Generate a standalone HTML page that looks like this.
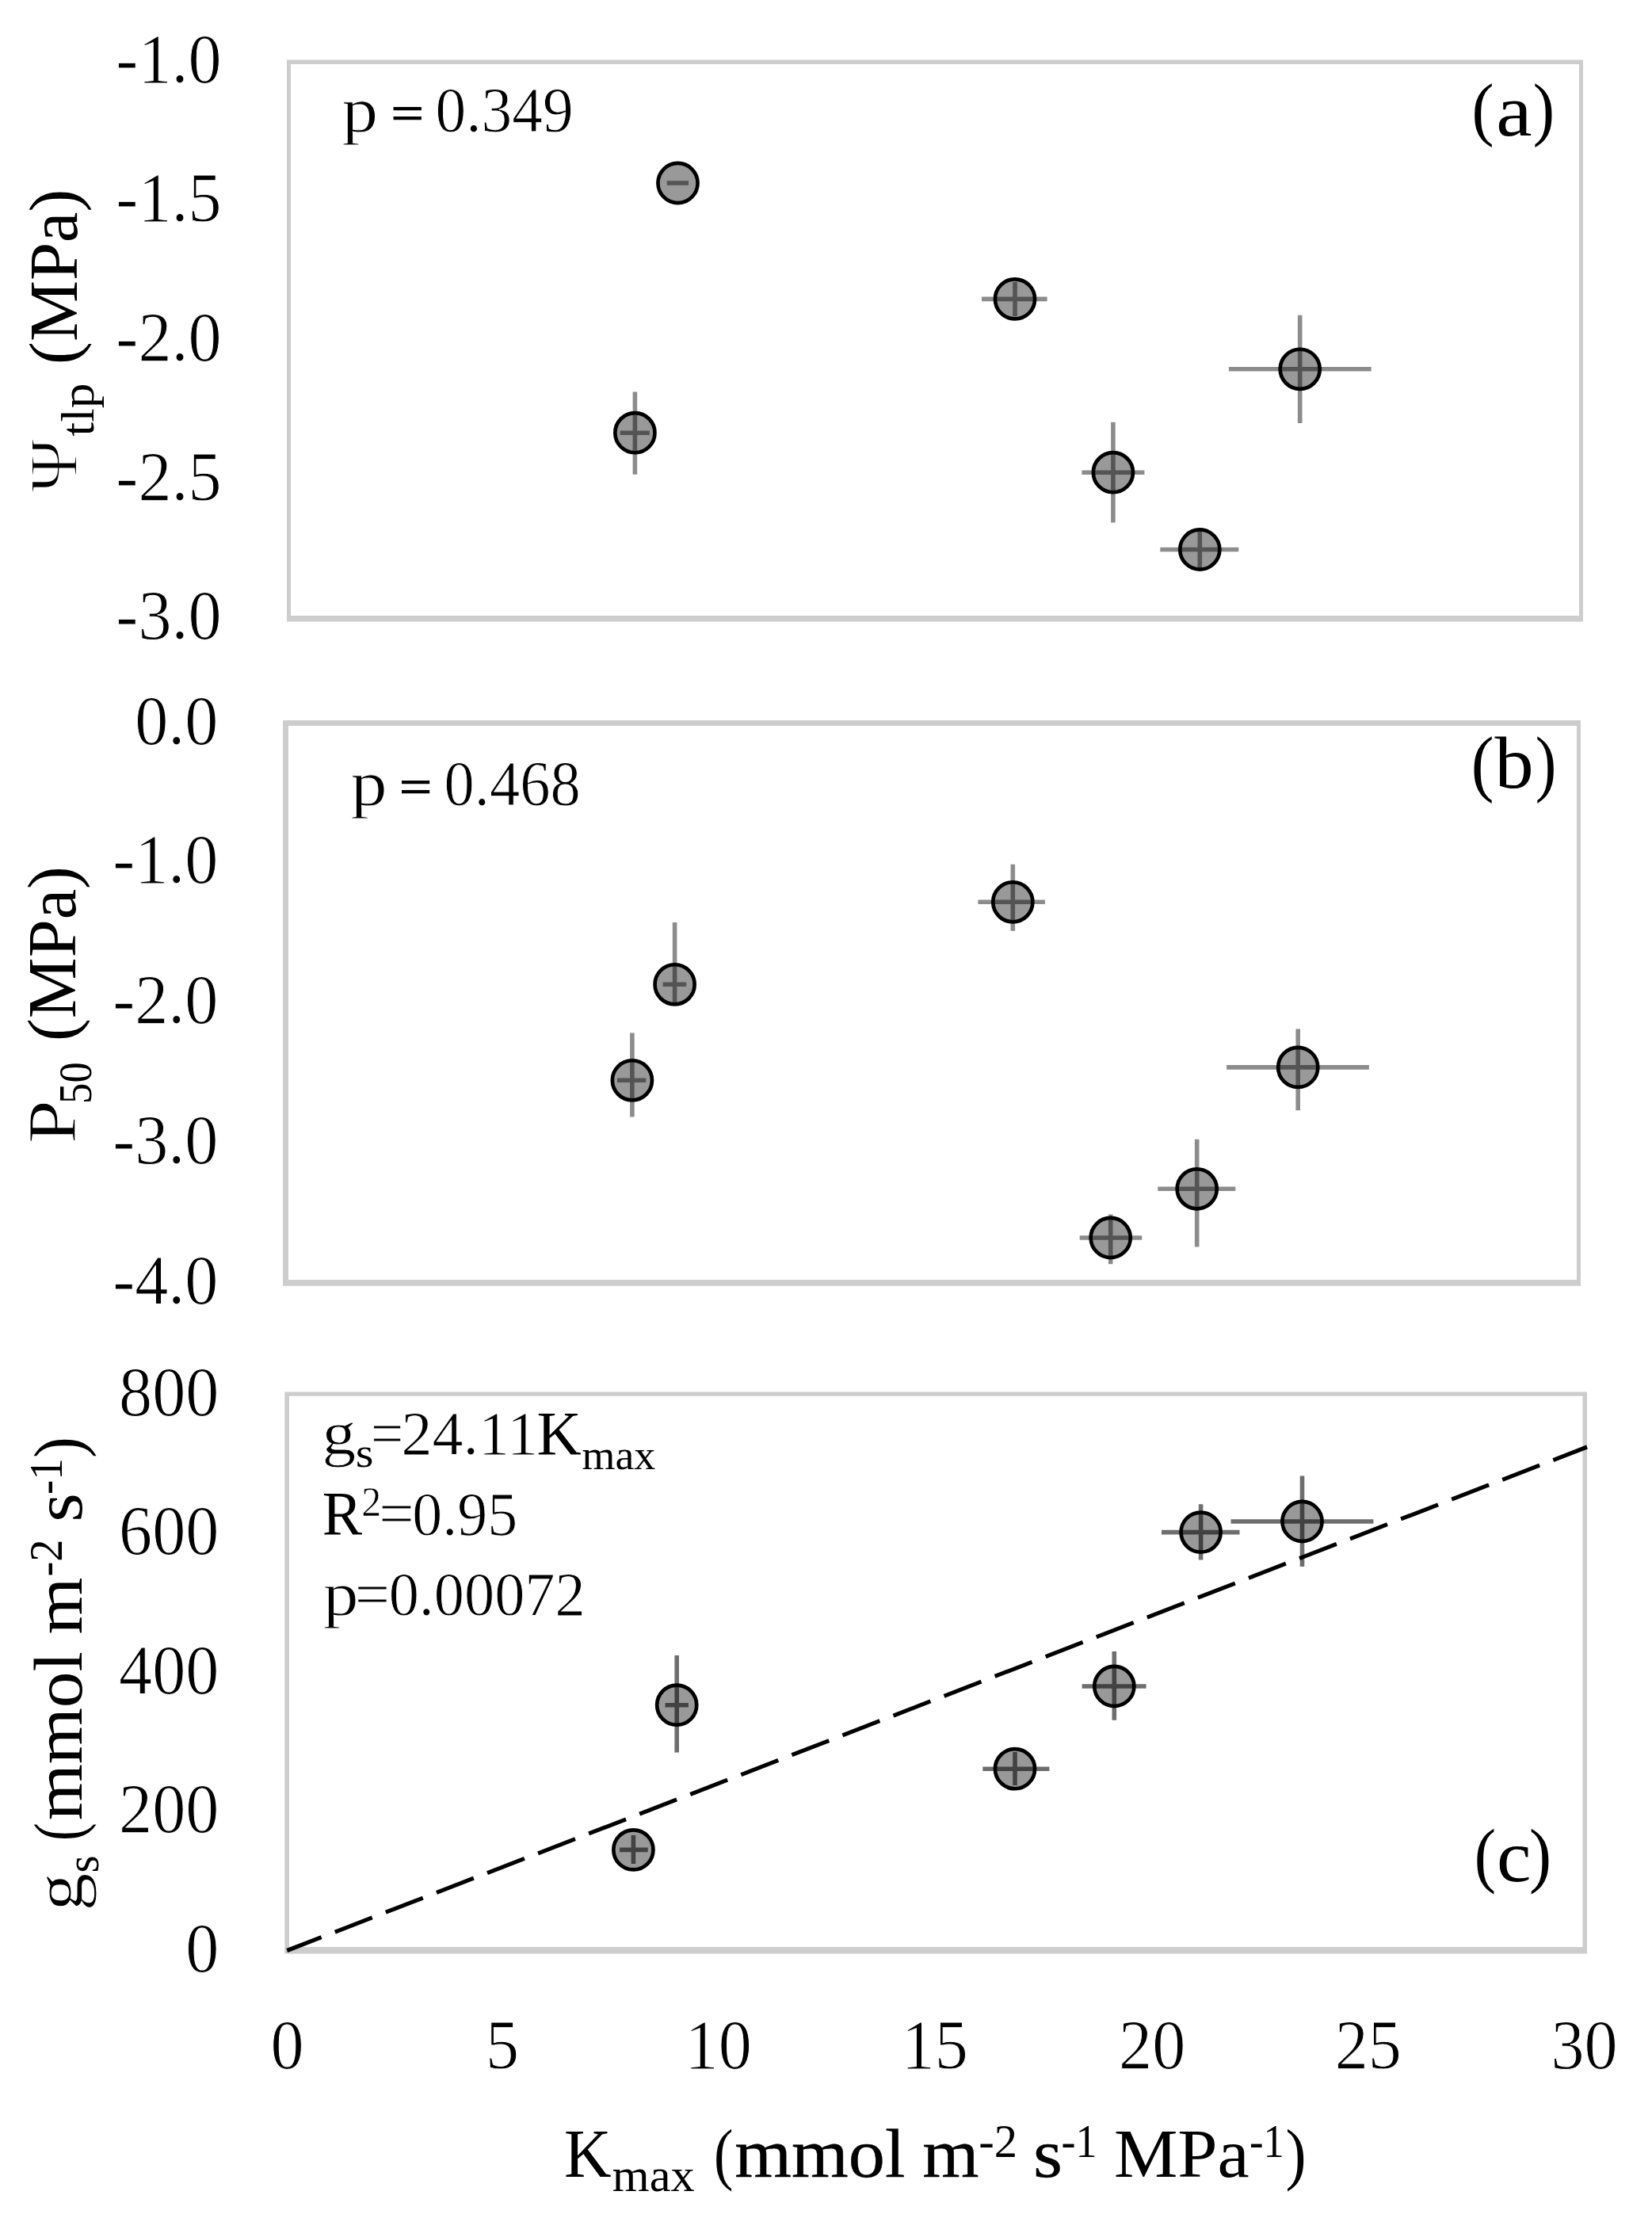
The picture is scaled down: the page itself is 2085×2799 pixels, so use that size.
<!DOCTYPE html>
<html lang="en"><head><meta charset="utf-8"><title>Figure</title>
<style>html,body{margin:0;padding:0;background:#fff}body{width:2085px;height:2799px;overflow:hidden}svg{display:block;filter:blur(.55px)}text{font-family:'Liberation Serif', serif;fill:#000;stroke:#fff;stroke-width:.0115em}</style></head>
<body>
<svg width="2085" height="2799" viewBox="0 0 2085 2799">
<rect width="2085" height="2799" fill="#fff"/>
<path d="M362 75.5H1998V784.5H362Z M367 81V777H1993V81Z" fill="#cdcdcd" fill-rule="evenodd"/>
<path d="M357 909H1995V1622.7H357Z M364 916V1615H1990V916Z" fill="#cdcdcd" fill-rule="evenodd"/>
<path d="M359.3 1756.4H2003V2465.5H359.3Z M365 1761.7V2457H1997.5V1761.7Z" fill="#cdcdcd" fill-rule="evenodd"/>
<g>
<circle cx="855.5" cy="231" r="25.05" fill="#999" stroke="#000" stroke-width="4.7"/>
<circle cx="801.4" cy="546.2" r="25.05" fill="#999" stroke="#000" stroke-width="4.7"/>
<circle cx="1281" cy="377.4" r="25.05" fill="#999" stroke="#000" stroke-width="4.7"/>
<circle cx="1404.9" cy="596.2" r="25.05" fill="#999" stroke="#000" stroke-width="4.7"/>
<circle cx="1514.3" cy="693.5" r="25.05" fill="#999" stroke="#000" stroke-width="4.7"/>
<circle cx="1640.7" cy="465.8" r="25.05" fill="#999" stroke="#000" stroke-width="4.7"/>
</g>
<g fill="#000" fill-opacity="0.45">
<path d="M841.7 228.2H869V233.8H841.7Z"/>
<path d="M782.6 543.4H819.8V549H782.6ZM798.6 494.4H804.2V598.8H798.6Z"/>
<path d="M1239 374.6H1321.6V380.2H1239ZM1278.2 356H1283.8V399H1278.2Z"/>
<path d="M1365.4 593.4H1444.4V599H1365.4ZM1402.1 532.7H1407.7V659.4H1402.1Z"/>
<path d="M1464.3 690.7H1563.3V696.3H1464.3ZM1511.5 669H1517.1V720H1511.5Z"/>
<path d="M1550.9 463H1730.7V468.6H1550.9ZM1637.9 397.8H1643.5V534H1637.9Z"/>
</g>
<g>
<circle cx="797.9" cy="1363.3" r="25.05" fill="#999" stroke="#000" stroke-width="4.7"/>
<circle cx="851.6" cy="1242.3" r="25.05" fill="#999" stroke="#000" stroke-width="4.7"/>
<circle cx="1278.3" cy="1138.3" r="25.05" fill="#999" stroke="#000" stroke-width="4.7"/>
<circle cx="1401.7" cy="1562" r="25.05" fill="#999" stroke="#000" stroke-width="4.7"/>
<circle cx="1510.7" cy="1500.3" r="25.05" fill="#999" stroke="#000" stroke-width="4.7"/>
<circle cx="1638.2" cy="1346.9" r="25.05" fill="#999" stroke="#000" stroke-width="4.7"/>
</g>
<g fill="#000" fill-opacity="0.45">
<path d="M779 1360.5H815.3V1366.1H779ZM795.1 1303.4H800.7V1409.6H795.1Z"/>
<path d="M836.6 1239.5H866.2V1245.1H836.6ZM848.8 1164.1H854.4V1266H848.8Z"/>
<path d="M1234.4 1135.5H1318.9V1141.1H1234.4ZM1275.5 1090.8H1281.1V1174.7H1275.5Z"/>
<path d="M1362.7 1559.2H1441.3V1564.8H1362.7ZM1398.9 1532.5H1404.5V1595.2H1398.9Z"/>
<path d="M1461.3 1497.5H1559.3V1503.1H1461.3ZM1507.9 1437.7H1513.5V1573.4H1507.9Z"/>
<path d="M1548.1 1344.1H1727.9V1349.7H1548.1ZM1635.4 1298.4H1641V1401.2H1635.4Z"/>
</g>
<g>
<circle cx="799.4" cy="2334.4" r="25.05" fill="#999" stroke="#000" stroke-width="4.7"/>
<circle cx="854.2" cy="2151.7" r="25.05" fill="#999" stroke="#000" stroke-width="4.7"/>
<circle cx="1281" cy="2232.2" r="25.05" fill="#999" stroke="#000" stroke-width="4.7"/>
<circle cx="1406.3" cy="2128" r="25.05" fill="#999" stroke="#000" stroke-width="4.7"/>
<circle cx="1515.6" cy="1933.6" r="25.05" fill="#999" stroke="#000" stroke-width="4.7"/>
<circle cx="1643.5" cy="1920" r="25.05" fill="#999" stroke="#000" stroke-width="4.7"/>
</g>
<g fill="#000" fill-opacity="0.57">
<path d="M782 2331.6H817.7V2337.2H782ZM796.6 2316H802.2V2352H796.6Z"/>
<path d="M839.5 2148.9H868.9V2154.5H839.5ZM851.4 2089H857V2211.6H851.4Z"/>
<path d="M1240.3 2229.4H1324.4V2235H1240.3ZM1278.2 2211H1283.8V2253H1278.2Z"/>
<path d="M1365.6 2125.2H1446.6V2130.8H1365.6ZM1403.5 2083.9H1409.1V2170.7H1403.5Z"/>
<path d="M1466 1930.8H1564.5V1936.4H1466ZM1512.8 1898.2H1518.4V1968.6H1512.8Z"/>
<path d="M1553.5 1917.2H1733.4V1922.8H1553.5ZM1640.7 1862.6H1646.3V1977H1640.7Z"/>
</g>
<line x1="362.2" y1="2461.5" x2="2003" y2="1826.0" stroke="#000" stroke-width="5.1" stroke-dasharray="50.3 18.4" stroke-dashoffset="3.7"/>
<text transform="translate(431.56 165.5) scale(1.1417 1)" font-size="80">p</text>
<text transform="translate(492.75 162.66) scale(0.9513 0.7727)" font-size="80" font-weight="bold" style="stroke:none">=</text>
<text transform="translate(549.6 165.5) scale(0.9672 1)" font-size="80">0.349</text>
<text transform="translate(442.44 1016) scale(1.1556 1)" font-size="80">p</text>
<text transform="translate(503.16 1013.26) scale(0.9462 0.7727)" font-size="80" font-weight="bold" style="stroke:none">=</text>
<text transform="translate(560.53 1016) scale(0.9563 1)" font-size="80">0.468</text>
<text transform="translate(1857.52 166.72) scale(0.8960 0.9388)" font-size="94" style="stroke:none">(</text>
<text transform="translate(1888.15 170.9) scale(1.0842 1)" font-size="94" style="stroke:none">a</text>
<text transform="translate(1934.78 166.72) scale(0.8720 0.9388)" font-size="94" style="stroke:none">)</text>
<text transform="translate(1856.82 994.47) scale(0.9200 0.9965)" font-size="94" style="stroke:none">(</text>
<text transform="translate(1886.6 994.1) scale(1.0455 1)" font-size="94" style="stroke:none">b</text>
<text transform="translate(1937.86 994.47) scale(0.8480 0.9965)" font-size="94" style="stroke:none">)</text>
<text transform="translate(1860.71 2370.99) scale(0.8720 0.9753)" font-size="94" style="stroke:none">(</text>
<text transform="translate(1888.88 2373.5) scale(1.0417 1)" font-size="94" style="stroke:none">c</text>
<text transform="translate(1929.91 2370.99) scale(0.8960 0.9753)" font-size="94" style="stroke:none">)</text>
<text transform="translate(406.41 1835) scale(1.0971 1)" font-size="78">g</text>
<text transform="translate(448.85 1851.4) scale(1.1235 1)" font-size="52" style="stroke:none">s</text>
<text transform="translate(467.98 1835) scale(0.9395 1)" font-size="78">=</text>
<text transform="translate(506.5 1835) scale(1.0000 1)" font-size="78">24.11</text>
<text transform="translate(677.6 1835) scale(0.9981 1)" font-size="78" style="stroke:none">K</text>
<text transform="translate(734.56 1853.8) scale(1.0358 1)" font-size="52" style="stroke:none">max</text>
<text transform="translate(406.86 1936) scale(0.9680 1)" font-size="78" style="stroke:none">R</text>
<text transform="translate(456.17 1912.8) scale(0.9636 1)" font-size="52">2</text>
<text transform="translate(478.37 1936) scale(1.0105 1)" font-size="78">=</text>
<text transform="translate(520.35 1936.8) scale(0.9734 1)" font-size="78">0.95</text>
<text transform="translate(407.65 2037.5) scale(1.1486 1)" font-size="78">p</text>
<text transform="translate(448.11 2037.5) scale(0.9974 1)" font-size="78">=</text>
<text transform="translate(490.64 2037.8) scale(0.9782 1)" font-size="78">0.00072</text>
<text transform="translate(712 2746.5) scale(0.9483 1)" font-size="87" style="stroke:none">K</text>
<text transform="translate(772.78 2764.7) scale(1.0222 1)" font-size="59" style="stroke:none">max</text>
<text transform="translate(900.88 2746.5) scale(0.8417 1)" font-size="87" style="stroke:none">(</text>
<text transform="translate(927.36 2746.5) scale(1.0604 1)" font-size="87" style="stroke:#000;stroke-width:0.41px">mmol</text>
<text transform="translate(1164.16 2746.5) scale(1.0525 1)" font-size="87" style="stroke:#000;stroke-width:0.41px">m</text>
<text transform="translate(1235.22 2721.6) scale(0.9922 1)" font-size="59" style="stroke:none">-2</text>
<text transform="translate(1304.04 2746.5) scale(1.0916 1)" font-size="87" style="stroke:#000;stroke-width:0.4px">s</text>
<text transform="translate(1339.57 2721.6) scale(0.9164 1)" font-size="59" style="stroke:none">-1</text>
<text transform="translate(1405.92 2746.5) scale(1.0393 1)" font-size="87" style="stroke:none">MPa</text>
<text transform="translate(1577.02 2721.6) scale(0.8912 1)" font-size="59" style="stroke:none">-1</text>
<text transform="translate(1622.6 2746.5) scale(0.9000 1)" font-size="87" style="stroke:none">)</text>
<text transform="translate(97.4 621.5) rotate(-90) scale(1.0578 1)" font-size="87" style="stroke-width:.024em">Ψ</text>
<text transform="translate(118.3 550.5) rotate(-90) scale(1.0759 1)" font-size="59" style="stroke:none">tlp</text>
<text transform="translate(97.4 459.88) rotate(-90) scale(0.9948 1)" font-size="87" style="stroke:none">(MPa)</text>
<text transform="translate(94.5 1442.97) rotate(-90) scale(1.1326 1)" font-size="87">P</text>
<text transform="translate(115.4 1392.88) rotate(-90) scale(0.8936 1)" font-size="59" style="stroke:none">50</text>
<text transform="translate(94.5 1313.88) rotate(-90) scale(0.9925 1)" font-size="87" style="stroke:none">(MPa)</text>
<text transform="translate(103.1 2411.51) rotate(-90) scale(1.1026 1)" font-size="87">g</text>
<text transform="translate(123.9 2363.53) rotate(-90) scale(0.9632 1)" font-size="59" style="stroke:none">s</text>
<text transform="translate(103.1 2322.94) rotate(-90) scale(0.7792 1)" font-size="87" style="stroke:none">(</text>
<text transform="translate(103.1 2297.25) rotate(-90) scale(1.0501 1)" font-size="87" style="stroke:none">mmol</text>
<text transform="translate(103.1 2062.46) rotate(-90) scale(1.0621 1)" font-size="87" style="stroke:none">m</text>
<text transform="translate(78.1 1989.61) rotate(-90) scale(0.9564 1)" font-size="59" style="stroke:none">-2</text>
<text transform="translate(103.1 1920.65) rotate(-90) scale(1.0821 1)" font-size="87" style="stroke:none">s</text>
<text transform="translate(78.1 1886.06) rotate(-90) scale(0.9302 1)" font-size="59" style="stroke:none">-1</text>
<text transform="translate(103.1 1839.73) rotate(-90) scale(0.9125 1)" font-size="87" style="stroke:none">)</text>
<text transform="translate(146.33 103.8) scale(0.9572 1)" font-size="88">-1.0</text>
<text transform="translate(146.33 278.9) scale(0.9572 1)" font-size="88">-1.5</text>
<text transform="translate(146.33 454.7) scale(0.9572 1)" font-size="88">-2.0</text>
<text transform="translate(146.33 631) scale(0.9572 1)" font-size="88">-2.5</text>
<text transform="translate(146.33 805.5) scale(0.9572 1)" font-size="88">-3.0</text>
<text transform="translate(170.18 938.6) scale(0.9572 1)" font-size="88">0.0</text>
<text transform="translate(142.13 1114.3) scale(0.9572 1)" font-size="88">-1.0</text>
<text transform="translate(142.13 1291) scale(0.9572 1)" font-size="88">-2.0</text>
<text transform="translate(142.13 1467.8) scale(0.9572 1)" font-size="88">-3.0</text>
<text transform="translate(142.13 1644.5) scale(0.9572 1)" font-size="88">-4.0</text>
<text transform="translate(150.12 1785.5) scale(0.9572 1)" font-size="88">800</text>
<text transform="translate(150.12 1961.1) scale(0.9572 1)" font-size="88">600</text>
<text transform="translate(150.12 2136.7) scale(0.9572 1)" font-size="88">400</text>
<text transform="translate(150.12 2312.3) scale(0.9572 1)" font-size="88">200</text>
<text transform="translate(234.35 2487.9) scale(0.9572 1)" font-size="88">0</text>
<text transform="translate(341.54 2610.4) scale(0.9572 1)" font-size="88">0</text>
<text transform="translate(612.98 2610.4) scale(0.9572 1)" font-size="88">5</text>
<text transform="translate(864.57 2610.4) scale(0.9572 1)" font-size="88">10</text>
<text transform="translate(1137.67 2610.4) scale(0.9572 1)" font-size="88">15</text>
<text transform="translate(1412.08 2610.4) scale(0.9572 1)" font-size="88">20</text>
<text transform="translate(1684.68 2610.4) scale(0.9572 1)" font-size="88">25</text>
<text transform="translate(1957.4 2610.4) scale(0.9572 1)" font-size="88">30</text>
</svg>
</body></html>
